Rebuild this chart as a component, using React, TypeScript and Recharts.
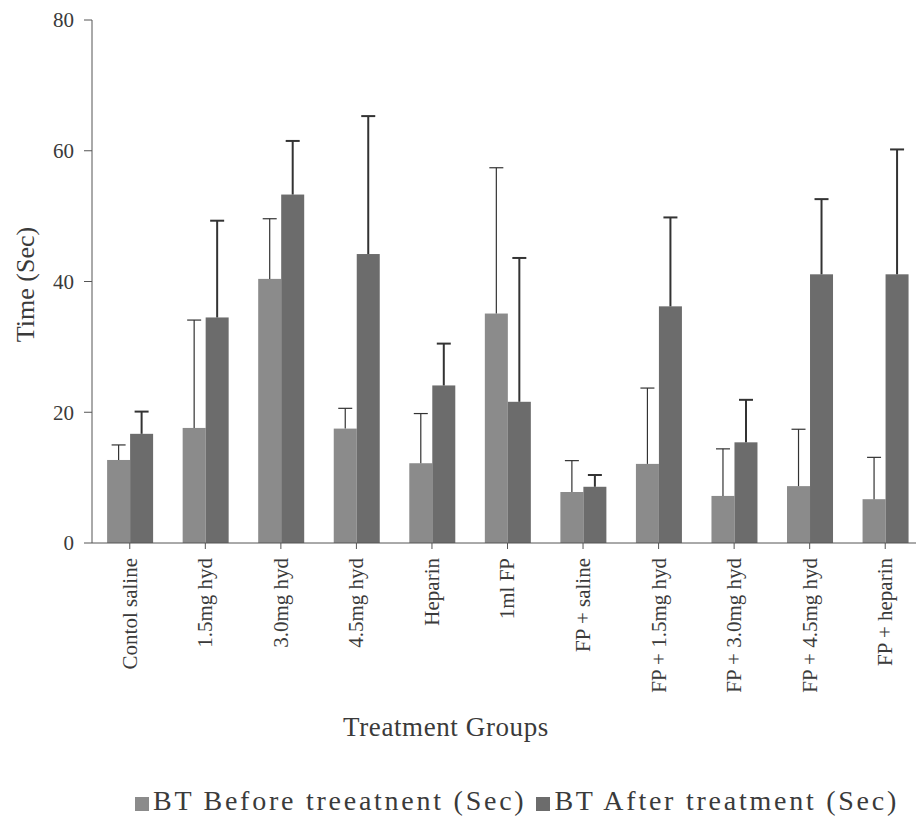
import React from 'react';
import { BarChart, Bar, XAxis, YAxis, Legend, Label } from 'recharts';

const categories = ['Contol saline', '1.5mg hyd', '3.0mg hyd', '4.5mg hyd', 'Heparin', '1ml FP', 'FP + saline', 'FP + 1.5mg hyd', 'FP + 3.0mg hyd', 'FP + 4.5mg hyd', 'FP + heparin'];
const beforeValues = [12.7, 17.6, 40.4, 17.5, 12.2, 35.1, 7.8, 12.1, 7.2, 8.7, 6.7];
const beforeErrors = [2.3, 16.5, 9.2, 3.1, 7.6, 22.3, 4.8, 11.6, 7.2, 8.7, 6.4];
const afterValues = [16.7, 34.5, 53.3, 44.2, 24.1, 21.6, 8.6, 36.2, 15.4, 41.1, 41.1];
const afterErrors = [3.4, 14.8, 8.2, 21.1, 6.4, 22.0, 1.8, 13.6, 6.5, 11.5, 19.1];
const yTicks = [0, 20, 40, 60, 80];
const boundaryTicks = [0, 1, 2, 3, 4, 5, 6, 7, 8, 9, 10, 11];

const data = categories.map((name, i) => ({
  name,
  before: beforeValues[i],
  beforeErr: beforeErrors[i],
  after: afterValues[i],
  afterErr: afterErrors[i],
}));

const FONT = '"Liberation Serif", "Times New Roman", serif';
const TEXT = '#3a3a3a';
const AXIS = '#555555';

const makeShape = (valKey: string, errKey: string, strokeW: number) => (props: any) => {
  const { x, y, width, height, fill, payload } = props;
  const v = payload[valKey];
  const err = payload[errKey];
  const ppu = v ? height / v : 0;
  const top = y - err * ppu;
  const cx = x + width / 2;
  return (
    <g>
      <rect x={x} y={y} width={width} height={height} fill={fill} />
      <line x1={cx} y1={y} x2={cx} y2={top} stroke="#333" strokeWidth={strokeW} />
      <line x1={cx - 7} y1={top} x2={cx + 7} y2={top} stroke="#333" strokeWidth={strokeW} />
    </g>
  );
};

const XTick = (props: any) => {
  const { x, y, payload } = props;
  return (
    <text
      x={x}
      y={y}
      transform={`rotate(-90, ${x}, ${y})`}
      textAnchor="end"
      dy="0.33em"
      fontFamily={FONT}
      fontSize={21}
      fill={TEXT}
    >
      {payload.value}
    </text>
  );
};

const YTitle = (props: any) => {
  const vb = props.viewBox || {};
  const cy = (vb.y || 0) + (vb.height || 0) / 2 + 3;
  const cx = 25;
  return (
    <text x={cx} y={cy} transform={`rotate(-90, ${cx}, ${cy})`} textAnchor="middle" dy="0.35em" fontFamily={FONT} fontSize={26} fill={TEXT}>
      Time (Sec)
    </text>
  );
};

const XTitle = (props: any) => {
  const vb = props.viewBox || {};
  const cx = 446;
  const cy = (vb.y || 0) + 184;
  return (
    <text x={cx} y={cy} textAnchor="middle" dy="0.35em" fontFamily={FONT} fontSize={27} letterSpacing={0.6} fill={TEXT}>
      Treatment Groups
    </text>
  );
};

export default function App() {
  return (
    <div style={{ position: 'absolute', left: 0, top: 0, width: 916, height: 817, overflow: 'hidden', background: '#fff' }}>
      <BarChart
        width={930}
        height={817}
        data={data}
        margin={{ top: 20, right: 7, left: 0, bottom: 0 }}
        barCategoryGap="20%"
        barGap={0}
      >
        <XAxis
          xAxisId="bounds"
          type="number"
          domain={[0, 11]}
          allowDataOverflow
          ticks={boundaryTicks}
          tick={false}
          axisLine={false}
          tickLine={{ stroke: AXIS }}
          tickSize={6}
          height={0}
        />
        <XAxis
          xAxisId="cat"
          dataKey="name"
          interval={0}
          height={242}
          tick={<XTick />}
          tickSize={6}
          tickMargin={9}
          axisLine={{ stroke: AXIS }}
          tickLine={{ stroke: AXIS }}
        >
          <Label content={<XTitle />} />
        </XAxis>
        <YAxis
          domain={[0, 80]}
          ticks={yTicks}
          width={92}
          tickSize={8}
          tickMargin={10}
          axisLine={{ stroke: AXIS }}
          tickLine={{ stroke: AXIS }}
          tick={{ fontFamily: FONT, fontSize: 21, fill: TEXT }}
        >
          <Label content={<YTitle />} />
        </YAxis>
        <Legend
          verticalAlign="bottom"
          iconType="square"
          iconSize={14}
          itemSorter={null as any}
          wrapperStyle={{ left: 122, width: 800, fontFamily: FONT, fontSize: 28, letterSpacing: 2.75, lineHeight: '32px' }}
          formatter={(value: any) => <span style={{ color: TEXT }}>{value}</span>}
        />
        <Bar
          xAxisId="cat"
          dataKey="before"
          name="BT Before treeatnent (Sec)"
          fill="#8b8b8b"
          isAnimationActive={false}
          shape={makeShape('before', 'beforeErr', 1.2)}
        />
        <Bar
          xAxisId="cat"
          dataKey="after"
          name="BT After treatment (Sec)"
          fill="#6c6c6c"
          isAnimationActive={false}
          shape={makeShape('after', 'afterErr', 2)}
        />
      </BarChart>
    </div>
  );
}
